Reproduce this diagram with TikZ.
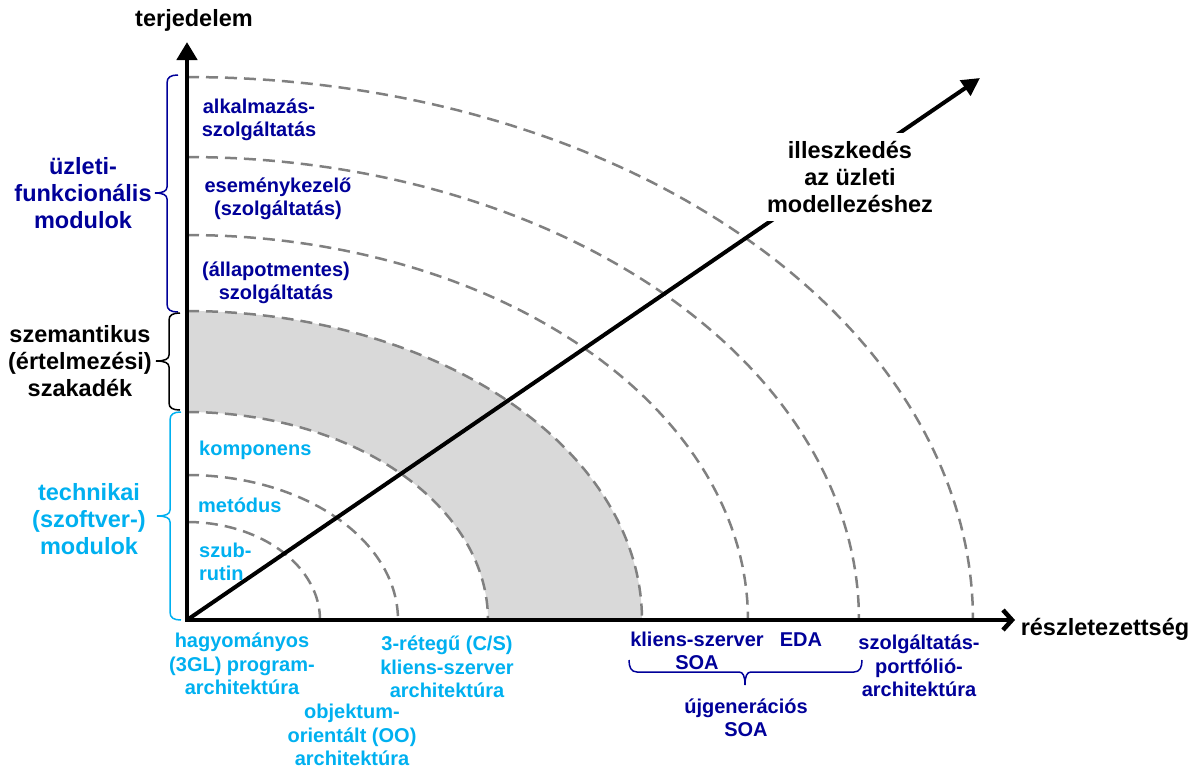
\documentclass[tikz,border=0pt]{standalone}
\usepackage{fontspec}
\setmainfont{Liberation Sans}
\usetikzlibrary{arrows.meta}
\definecolor{navyb}{HTML}{000099}
\definecolor{cyanb}{HTML}{00B0F0}
\definecolor{arcgrey}{HTML}{808080}
\definecolor{bandgrey}{HTML}{D9D9D9}
\begin{document}
\begin{tikzpicture}[x=1pt,y=-1pt,
  big/.style={font=\fontsize{23.5}{27}\selectfont\bfseries, inner sep=0pt, align=center},
  small/.style={font=\fontsize{20}{23.5}\selectfont\bfseries, inner sep=0pt, align=center},
  arcline/.style={draw=arcgrey, line width=2.5pt, dash pattern=on 12pt off 7pt},
  axisline/.style={line width=4.5pt, line cap=rect},
  diagline/.style={line width=4pt},
  bracestyle/.style={line width=1.5pt},
]
\useasboundingbox (0,0) rectangle (1195,769);

% grey band between two arcs
\fill[bandgrey] plot[domain=0:90, samples=90, variable=\t] ({187+455*cos(\t)},{620-309*sin(\t)})
  -- plot[domain=90:0, samples=90, variable=\t] ({187+301*cos(\t)},{620-208*sin(\t)}) -- cycle;

% dashed quarter ellipses
\foreach \rx/\ry in {133/98, 211/145, 301/208, 455/309, 561/385, 672/463, 786/543}
  \draw[arcline] plot[domain=90:0, samples=90, variable=\t] ({187+\rx*cos(\t)},{620-\ry*sin(\t)});

% axes
\coordinate (O) at (187,620);
\coordinate (Ytip) at (187,42);
\coordinate (Xtip) at (1015,620);
\coordinate (Dtip) at (980,78);
\draw[axisline, -{Triangle[length=18pt,width=20pt]}] (O) -- (Ytip);
\draw[axisline, -{Straight Barb[length=9pt,width=20pt]}] (O) -- (Xtip);
\draw[diagline, -{Triangle[length=18pt,width=18pt]}] (O) -- (Dtip);

% axis labels
\node[big] (yl) at (194,20) {terjedelem};
\node[big] (xl) at (1105,629) {részletezettség};
\node[big, fill=white, inner sep=8pt] (dl) at (850,177) {illeszkedés\\az üzleti\\modellezéshez};

% braces on the left
\draw[navyb, bracestyle] (178,75) .. controls (171,75) and (167,77) .. (167,83) -- (167,187)
  .. controls (167,191) and (163,193) .. (155,193)
  .. controls (163,193) and (167,195) .. (167,199) -- (167,304)
  .. controls (167,310) and (171,312) .. (178,312);
\draw[black, bracestyle] (180,313) .. controls (173,313) and (169,315) .. (169,320) -- (169,355)
  .. controls (169,359) and (165,361) .. (156,361)
  .. controls (165,361) and (169,363) .. (169,367) -- (169,403)
  .. controls (169,408) and (173,410) .. (180,410);
\draw[cyanb, bracestyle] (181,412) .. controls (174,412) and (170,414) .. (170,420) -- (170,510)
  .. controls (170,514) and (166,516) .. (157,516)
  .. controls (166,516) and (170,518) .. (170,522) -- (170,612)
  .. controls (170,618) and (174,620) .. (181,620);

% brace at the bottom
\draw[navyb, bracestyle] (629,660) .. controls (629,667) and (631,672) .. (637,672) -- (739,672)
  .. controls (743,672) and (745,676) .. (745,685)
  .. controls (745,676) and (747,672) .. (751,672) -- (854,672)
  .. controls (860,672) and (862,667) .. (862,660);

% left group labels
\node[big, navyb] (g1) at (83,193) {üzleti-\\funkcionális\\modulok};
\node[big, black] (g2) at (80,361) {szemantikus\\(értelmezési)\\szakadék};
\node[big, cyanb] (g3) at (89,519) {technikai\\(szoftver-)\\modulok};

% labels inside the quadrant (upper)
\node[small, navyb] (u1) at (259,120) {alkalmazás-\\szolgáltatás};
\node[small, navyb] (u2) at (278,199) {eseménykezelő\\(szolgáltatás)};
\node[small, navyb] (u3) at (276,283) {(állapotmentes)\\szolgáltatás};

% labels inside the quadrant (lower)
\node[small, cyanb, anchor=west] (l1) at (199,450) {komponens};
\node[small, cyanb, anchor=west] (l2) at (198,505) {metódus};
\node[small, cyanb, anchor=west, align=left] (l3) at (199,562) {szub-\\rutin};

% labels under the x axis
\node[small, cyanb] (a1) at (242,664) {hagyományos\\(3GL) program-\\architektúra};
\node[small, cyanb] (a2) at (352,735) {objektum-\\orientált (OO)\\architektúra};
\node[small, cyanb] (a3) at (447,667) {3-rétegű (C/S)\\kliens-szerver\\architektúra};
\node[small, navyb] (a4) at (697,651) {kliens-szerver\\SOA};
\node[small, navyb] (a5) at (801,640) {EDA};
\node[small, navyb] (a6) at (746,718) {újgenerációs\\SOA};
\node[small, navyb] (a7) at (919,666) {szolgáltatás-\\portfólió-\\architektúra};
\end{tikzpicture}
\end{document}
